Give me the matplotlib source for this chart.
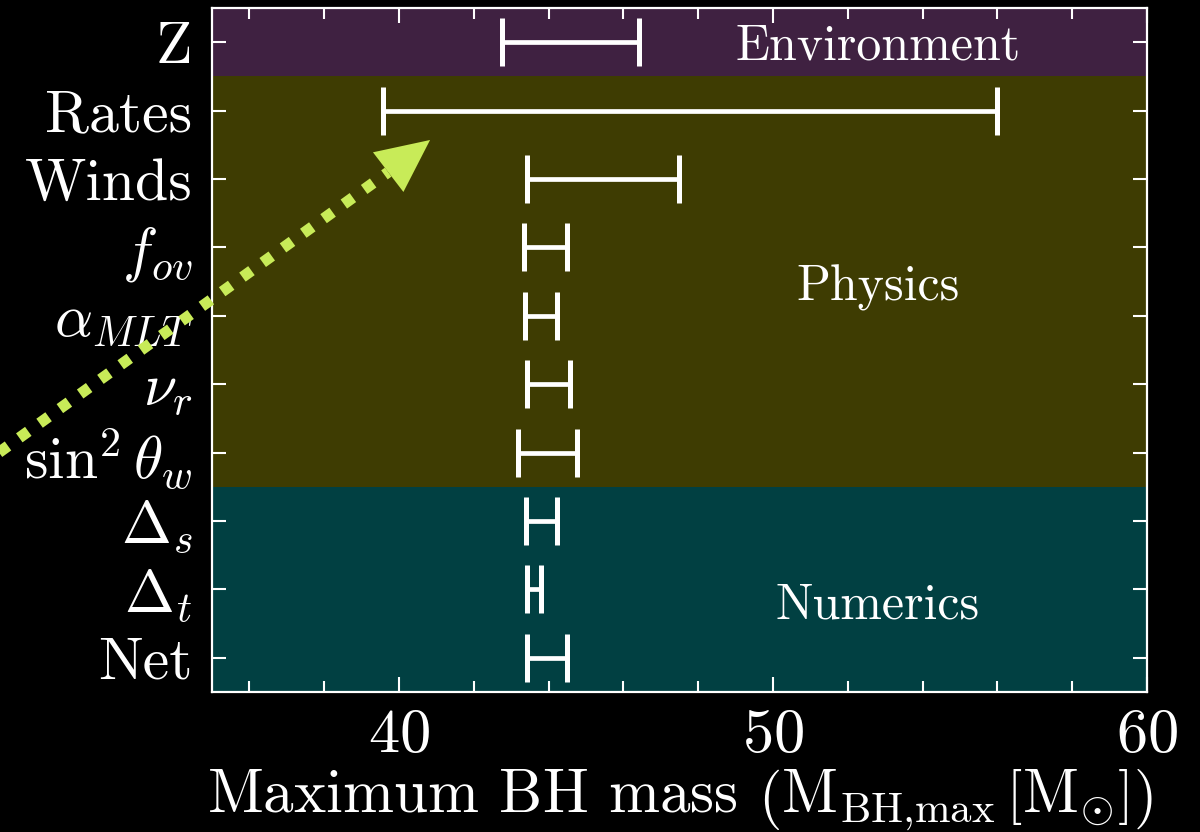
import matplotlib
matplotlib.use("Agg")
import matplotlib.pyplot as plt
import numpy as np
from matplotlib.ticker import MultipleLocator

plt.rcParams["font.family"] = "serif"
plt.rcParams["font.serif"] = ["cmr10"]
plt.rcParams["mathtext.fontset"] = "cm"
plt.rcParams["axes.formatter.use_mathtext"] = True

# Uncertainty sources and the range of maximum BH mass each one spans
labels = ["Z", "Rates", "Winds", r"$f_{ov}$", r"$\alpha_{MLT}$", r"$\nu_r$",
          r"$\sin^2\theta_w$", r"$\Delta_s$", r"$\Delta_t$", "Net"]
mass_low = [42.75, 39.57, 43.41, 43.34, 43.37, 43.42, 43.18, 43.40, 43.42, 43.42]
mass_high = [46.42, 55.99, 47.49, 44.49, 44.22, 44.57, 44.76, 44.22, 43.80, 44.49]

# Category groups: (name, first row, last row, colour)
group_names = ["Environment", "Physics", "Numerics"]
group_first = [0, 1, 7]
group_last = [0, 6, 9]
group_colors = ["#3f2141", "#3e3c02", "#014042"]

lo = np.array(mass_low)
hi = np.array(mass_high)
rows = np.arange(len(labels))
mid = (lo + hi) / 2
half = (hi - lo) / 2

fig = plt.figure(figsize=(12, 8.32), dpi=100, facecolor="black")
ax = fig.add_axes([0.1767, 0.1683, 0.9558 - 0.1767, 0.9904 - 0.1683])
ax.set_facecolor("black")

for name, a, b, c in zip(group_names, group_first, group_last, group_colors):
    ax.axhspan(a - 0.5, b + 0.5, color=c, lw=0, zorder=0)

ax.errorbar(mid, rows, xerr=half, fmt="none", ecolor="white",
            elinewidth=3.4, capsize=17.3, capthick=3.6, zorder=3)

label_x = 52.8
label_base = [0.26, 3.77, 8.42]
for name, yb in zip(group_names, label_base):
    ax.text(label_x, yb, name, color="white", fontsize=36,
            ha="center", va="baseline", zorder=4)

ax.set_xlim(35, 60)
ax.set_ylim(9.5, -0.5)
ax.set_yticks(rows)
ax.set_yticklabels(labels)
ax.xaxis.set_major_locator(MultipleLocator(10))
ax.xaxis.set_minor_locator(MultipleLocator(2))

ax.tick_params(axis="both", which="both", direction="in", colors="white",
               top=True, right=True, width=1.5)
ax.tick_params(axis="x", which="major", length=11, labelsize=45, pad=12)
ax.tick_params(axis="x", which="minor", length=8)
ax.tick_params(axis="y", which="major", length=10, labelsize=43, pad=14)
ax.tick_params(axis="y", which="minor", left=False, right=False)

for s in ax.spines.values():
    s.set_color("white")
    s.set_linewidth(1.6)

ax.set_xlabel(r"Maximum BH mass $\left(\mathrm{M}_{\mathrm{BH{,}max}}\,\left[\mathrm{M}_{\odot}\right]\right)$",
              color="white", fontsize=44, labelpad=2)

# Dotted pointer toward the Rates range: dotted shaft plus a solid head
arrow_color = "#c8eb58"
tip = (40.83, 1.43)
base = (39.71, 1.90)
start = (28.74, 6.22)
ax.plot([start[0], base[0]], [start[1], base[1]], color=arrow_color, lw=8,
        ls=(0, (1, 1.25)), dash_capstyle="butt", clip_on=False, zorder=5)
ax.annotate("", xy=tip, xytext=base,
            arrowprops=dict(arrowstyle="-|>,head_length=38,head_width=18",
                            color=arrow_color, lw=0, mutation_scale=1,
                            shrinkA=0, shrinkB=0),
            annotation_clip=False, zorder=5)

fig.savefig("out.png", dpi=100, facecolor="black")
